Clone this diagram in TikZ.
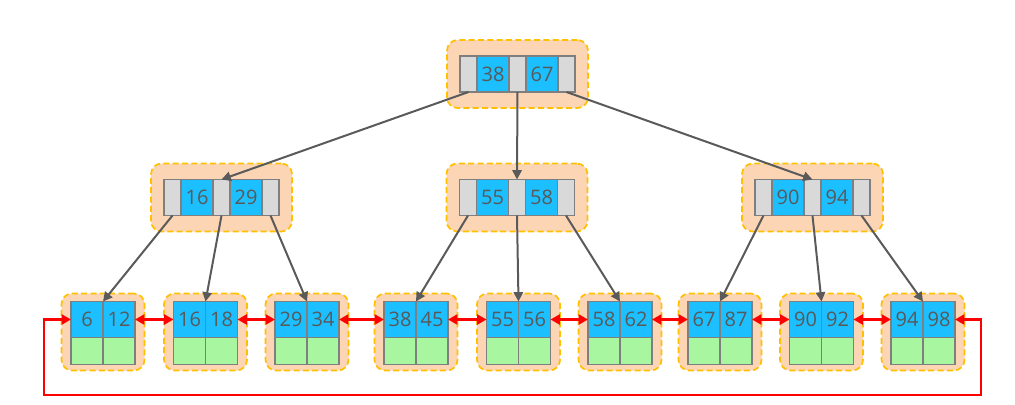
\documentclass[tikz,border=0pt]{standalone}
\usepackage{fontspec}
\setmainfont{Open Sans}
\usetikzlibrary{arrows.meta}
\definecolor{cellgray}{HTML}{D9D9D9}
\definecolor{cellblue}{HTML}{1CBFFF}
\definecolor{cellgreen}{HTML}{A9F6A0}
\definecolor{cellline}{HTML}{7F7F7F}
\definecolor{txtgray}{HTML}{595959}
\definecolor{peach}{HTML}{FCD5B5}
\definecolor{boxline}{HTML}{FFC000}
\definecolor{arrgray}{HTML}{5A5A5A}
\tikzset{
  cellbase/.style={draw=cellline, line width=0.9pt, inner sep=0pt, outer sep=0pt,
    text=txtgray, font=\fontsize{15}{18}\selectfont},
  gcell/.style={cellbase, fill=cellgray, minimum width=12.75pt, minimum height=27pt},
  bcell/.style={cellbase, fill=cellblue, minimum width=24pt, minimum height=27pt},
  lbcell/.style={cellbase, fill=cellblue, minimum width=24pt, minimum height=27pt},
  lgcell/.style={cellbase, fill=cellgreen, minimum width=24pt, minimum height=20.25pt},
  obox/.style={draw=boxline, fill=peach, line width=1.3pt, dash pattern=on 4.5pt off 2.5pt,
    rounded corners=8pt, inner sep=0pt, outer sep=0pt},
  tree/.style={draw=arrgray, line width=1.5pt, -{Triangle[length=7pt,width=7pt]}},
  link/.style={draw=red, line width=1.6pt, {Triangle[length=7pt,width=7.5pt]}-{Triangle[length=7pt,width=7.5pt]}}
}
\newcommand\inode[5]{%
  \node[obox, minimum width=105.75pt, minimum height=51pt] (#1) at (#2,#3) {};
  \node[gcell] (#1-g1) at ({#2-49},#3) {};
  \node[bcell] (#1-b1) at ({#2-24.5},#3) {#4};
  \node[gcell] (#1-g2) at (#2,#3) {};
  \node[bcell] (#1-b2) at ({#2+24.5},#3) {#5};
  \node[gcell] (#1-g3) at ({#2+49},#3) {};
}
\newcommand\lnode[4]{%
  \node[obox, minimum width=62.25pt, minimum height=57.75pt] (#1) at (#2,332) {};
  \node[lbcell] (#1-a) at ({#2-16},319.5) {#3};
  \node[lbcell] (#1-b) at ({#2+16},319.5) {#4};
  \node[lgcell] (#1-c) at ({#2-16},351) {};
  \node[lgcell] (#1-d) at ({#2+16},351) {};
}
\begin{document}
\begin{tikzpicture}[x=0.75pt, y=-0.75pt]
\useasboundingbox (0,0) rectangle (1015,404);
\inode{r}{517.5}{74}{38}{67}
\inode{ma}{221.5}{197.5}{16}{29}
\inode{mb}{517}{197.5}{55}{58}
\inode{mc}{812.5}{197.5}{90}{94}
\lnode{la}{103}{6}{12}
\lnode{lb}{205.5}{16}{18}
\lnode{lc}{307}{29}{34}
\lnode{ld}{416}{38}{45}
\lnode{le}{518.5}{55}{56}
\lnode{lf}{620}{58}{62}
\lnode{lg}{720}{67}{87}
\lnode{lh}{821.5}{90}{92}
\lnode{li}{923}{94}{98}
% tree edges
\draw[tree] (r-g1.south) -- (ma-g2.north);
\draw[tree] (r-g2.south) -- (mb-g2.north);
\draw[tree] (r-g3.south) -- (mc-g2.north);
\draw[tree] (ma-g1.south) -- (la-a.north east);
\draw[tree] (ma-g2.south) -- (lb-a.north east);
\draw[tree] (ma-g3.south) -- (lc-a.north east);
\draw[tree] (mb-g1.south) -- (ld-a.north east);
\draw[tree] (mb-g2.south) -- (le-a.north east);
\draw[tree] (mb-g3.south) -- (lf-a.north east);
\draw[tree] (mc-g1.south) -- (lg-a.north east);
\draw[tree] (mc-g2.south) -- (lh-a.north east);
\draw[tree] (mc-g3.south) -- (li-a.north east);
% leaf links
\draw[link] (la-b.east) -- (lb-a.west);
\draw[link] (lb-b.east) -- (lc-a.west);
\draw[link] (lc-b.east) -- (ld-a.west);
\draw[link] (ld-b.east) -- (le-a.west);
\draw[link] (le-b.east) -- (lf-a.west);
\draw[link] (lf-b.east) -- (lg-a.west);
\draw[link] (lg-b.east) -- (lh-a.west);
\draw[link] (lh-b.east) -- (li-a.west);
\coordinate (loopr) at (981,395);
\coordinate (loopl) at (44,395);
\draw[link] (li-b.east) -| (loopr) -- (loopl) |- (la-a.west);
\end{tikzpicture}
\end{document}
